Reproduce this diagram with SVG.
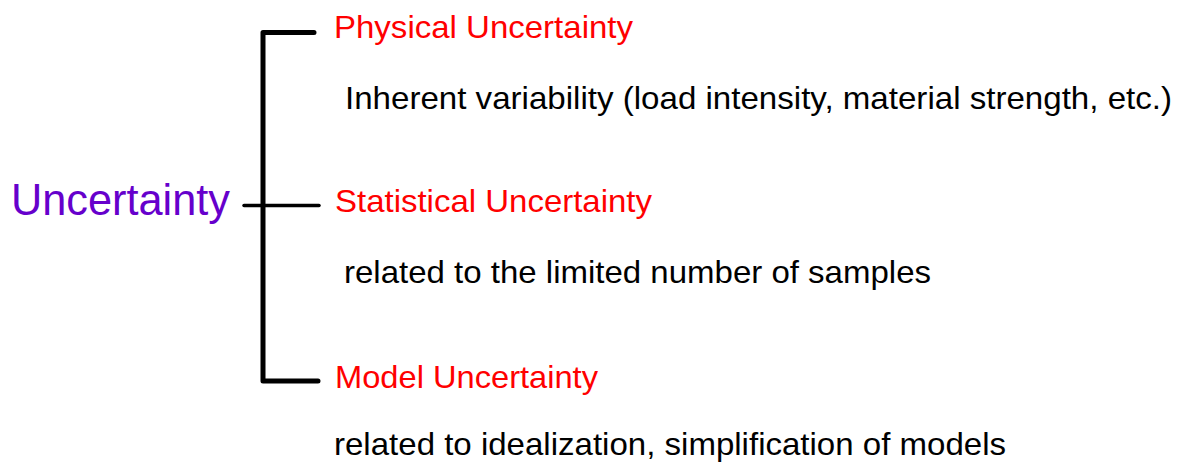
<svg xmlns="http://www.w3.org/2000/svg" width="1179" height="464" viewBox="0 0 1179 464">
<style>
text{font-family:"Liberation Sans",Arial,sans-serif}
.root{fill:#6600cc;font-size:44px}
.cat{fill:#ff0000;font-size:32px}
.desc{fill:#000000;font-size:31.5px}
.br{fill:none;stroke:#000;stroke-linecap:round;stroke-linejoin:round}
</style>
<rect width="1179" height="464" fill="#ffffff"/>
<g id="connectors">
<path class="br" d="M314 32.5 H263 V381 H318" stroke-width="5"/>
<path class="br" d="M244 205.5 H319" stroke-width="3.5"/>
</g>
<g id="uncertainty"><text class="root" x="11" y="215" textLength="219" lengthAdjust="spacingAndGlyphs">Uncertainty</text></g>
<g id="physical">
<text class="cat" x="334" y="38" textLength="299" lengthAdjust="spacingAndGlyphs">Physical Uncertainty</text>
<text class="desc" x="345" y="109" textLength="827" lengthAdjust="spacingAndGlyphs">Inherent variability (load intensity, material strength, etc.)</text>
</g>
<g id="statistical">
<text class="cat" x="335" y="212" textLength="317" lengthAdjust="spacingAndGlyphs">Statistical Uncertainty</text>
<text class="desc" x="344" y="283" textLength="587" lengthAdjust="spacingAndGlyphs">related to the limited number of samples</text>
</g>
<g id="model">
<text class="cat" x="335" y="388" textLength="263" lengthAdjust="spacingAndGlyphs">Model Uncertainty</text>
<text class="desc" x="334" y="455" textLength="672" lengthAdjust="spacingAndGlyphs">related to idealization, simplification of models</text>
</g>
</svg>
